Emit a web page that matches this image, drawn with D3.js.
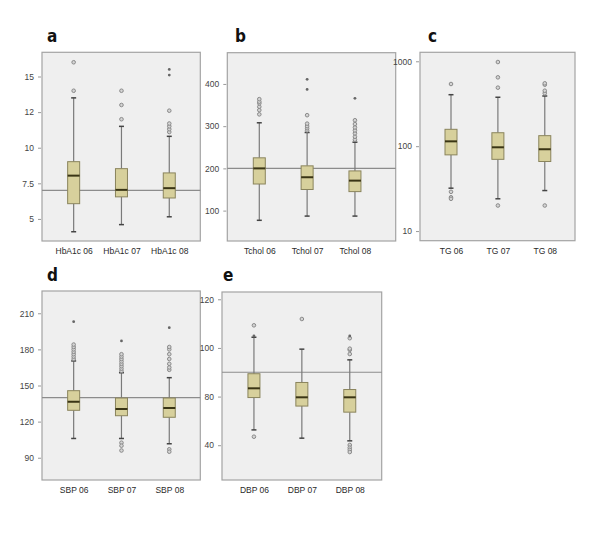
<!DOCTYPE html>
<html><head><meta charset="utf-8">
<script src="https://cdn.jsdelivr.net/npm/d3@7"></script>
<style>body{margin:0;background:#fff}svg{display:block}</style>
</head><body>
<svg id="chart" width="600" height="535"></svg>
<script>
// ---- DATA (stats = [lowWhisker, Q1, median, Q3, highWhisker]) ----
const hba1cCats = ["HbA1c 06", "HbA1c 07", "HbA1c 08"];
const hba1cStats = [[4.1, 6.07, 8.04, 9.02, 13.5], [4.6, 6.55, 7.04, 8.53, 11.5], [5.15, 6.47, 7.16, 8.23, 10.8]];
const hba1cOutliers = [[14.0, 16.0], [12.0, 13.0, 14.0], [11.1, 11.3, 11.5, 11.7, 12.6]];
const hba1cExtremes = [[], [], [15.1, 15.5]];
const hba1cTicks = [5, 7.5, 10, 12.5, 15];
const hba1cTickLabels = ["5", "7.5", "10", "12", "15"];
const hba1cRef = 7.0;

const tcholCats = ["Tchol 06", "Tchol 07", "Tchol 08"];
const tcholStats = [[77, 163, 200, 225, 308], [87, 150, 179, 206, 285], [87, 145, 171, 194, 262]];
const tcholOutliers = [[328, 338, 346, 354, 358, 364], [290, 295, 300, 306, 326], [268, 275, 283, 290, 297, 305, 314]];
const tcholExtremes = [[], [387, 411], [366]];
const tcholTicks = [100, 200, 300, 400];
const tcholTickLabels = ["100", "200", "300", "400"];
const tcholRef = 200;

const tgCats = ["TG 06", "TG 07", "TG 08"];
const tgStats = [[32, 79, 114, 158, 404], [24, 70, 97, 144, 377], [30, 66, 92, 133, 390]];
const tgOutliers = [[540, 29, 25, 24], [980, 647, 489, 20], [420, 450, 530, 550, 20]];
const tgExtremes = [[], [], []];
const tgTicks = [10, 100, 1000];
const tgTickLabels = ["10", "100", "1000"];

const sbpCats = ["SBP 06", "SBP 07", "SBP 08"];
const sbpStats = [[106, 129.4, 136.5, 145.7, 170.4], [106, 124.9, 130.5, 139.6, 160.6], [101.6, 123.6, 131.3, 139.6, 156.5]];
const sbpOutliers = [[172, 174, 176, 178, 180, 182, 184], [162, 164, 166, 168, 170, 172, 174, 176, 102.5, 100, 96], [163, 165, 168, 172, 176, 180, 182, 97, 95]];
const sbpExtremes = [[203], [187], [198]];
const sbpTicks = [90, 120, 150, 180, 210];
const sbpTickLabels = ["90", "120", "150", "180", "210"];
const sbpRef = 140;

const dbpCats = ["DBP 06", "DBP 07", "DBP 08"];
const dbpStats = [[66.3, 79.6, 83.4, 89.4, 104.4], [62.9, 76.1, 79.7, 85.8, 99.5], [61.8, 73.6, 79.7, 82.9, 95.1]];
const dbpOutliers = [[109.3, 63.5], [111.9], [97.5, 99.2, 99.7, 104, 60.1, 59, 58.1, 57.2]];
const dbpExtremes = [[104.9], [], [104.9]];
const dbpTicks = [60, 80, 100, 120];
const dbpTickLabels = ["40", "80", "100", "120"];
const dbpRef = 90;

// ---- LAYOUT ----
const panels = [
  {letter: "a", cats: hba1cCats, stats: hba1cStats, out: hba1cOutliers, ext: hba1cExtremes, ticks: hba1cTicks, tickLabels: hba1cTickLabels, ref: hba1cRef,
   x0: 42, x1: 200.3, y0: 52.3, y1: 241, dom: [3.45, 16.7], log: false, f: [0.2, 0.804], lx: 47, ly: 37},
  {letter: "b", cats: tcholCats, stats: tcholStats, out: tcholOutliers, ext: tcholExtremes, ticks: tcholTicks, tickLabels: tcholTickLabels, ref: tcholRef,
   x0: 227.3, x1: 395.7, y0: 52.7, y1: 241, dom: [28, 474], log: false, f: [0.19, 0.758], lx: 235, ly: 37},
  {letter: "c", cats: tgCats, stats: tgStats, out: tgOutliers, ext: tgExtremes, ticks: tgTicks, tickLabels: tgTickLabels, ref: null,
   x0: 420, x1: 575, y0: 52.3, y1: 240.7, dom: [7.7, 1276], log: true, f: [0.2, 0.805], lx: 428, ly: 37},
  {letter: "d", cats: sbpCats, stats: sbpStats, out: sbpOutliers, ext: sbpExtremes, ticks: sbpTicks, tickLabels: sbpTickLabels, ref: sbpRef,
   x0: 42, x1: 200.3, y0: 291, y1: 480, dom: [71.5, 228.5], log: false, f: [0.2, 0.804], lx: 47, ly: 276},
  {letter: "e", cats: dbpCats, stats: dbpStats, out: dbpOutliers, ext: dbpExtremes, ticks: dbpTicks, tickLabels: dbpTickLabels, ref: dbpRef,
   x0: 222, x1: 381.7, y0: 292, y1: 480, dom: [45.7, 123], log: false, f: [0.2, 0.8], lx: 223, ly: 276}
];

const svg = d3.select("#chart");
const boxW = 12, capW = 5;

panels.forEach(p => {
  const g = svg.append("g");
  const w = p.x1 - p.x0;
  const y = (p.log ? d3.scaleLog() : d3.scaleLinear()).domain(p.dom).range([p.y1, p.y0]);
  const x = d3.scalePoint().domain(p.cats).range([p.x0 + p.f[0] * w, p.x0 + p.f[1] * w]);

  // background + frame
  g.append("rect").attr("x", p.x0).attr("y", p.y0).attr("width", w).attr("height", p.y1 - p.y0)
    .attr("fill", "#efefef").attr("stroke", "#a3a3a3").attr("stroke-width", 1.2);

  // y axis
  const yAxis = d3.axisLeft(y).tickValues(p.ticks).tickSize(3).tickPadding(4)
    .tickFormat((d, i) => p.tickLabels[i]);
  const ya = g.append("g").attr("transform", `translate(${p.x0 - 1},0)`).call(yAxis);
  ya.select(".domain").remove();
  ya.selectAll(".tick line").attr("stroke", "#999");
  ya.selectAll("text").attr("fill", "#444").style("font-family", "Liberation Sans, Arial, sans-serif").style("font-size", "8.5px");

  // x axis labels
  const xAxis = d3.axisBottom(x).tickSize(0).tickPadding(7);
  const xa = g.append("g").attr("transform", `translate(0,${p.y1})`).call(xAxis);
  xa.select(".domain").remove();
  xa.selectAll("text").attr("fill", "#2a2a2a").style("font-family", "Liberation Sans, Arial, sans-serif").style("font-size", "8.5px");

  // reference line
  if (p.ref !== null) {
    g.append("line").attr("x1", p.x0).attr("x2", p.x1).attr("y1", y(p.ref)).attr("y2", y(p.ref))
      .attr("stroke", "#8c8c8c").attr("stroke-width", 1.2);
  }

  p.cats.forEach((c, i) => {
    const s = p.stats[i], cx = x(c);
    // whiskers
    g.append("line").attr("x1", cx).attr("x2", cx).attr("y1", y(s[0])).attr("y2", y(s[1])).attr("stroke", "#7a7a7a").attr("stroke-width", 1.2);
    g.append("line").attr("x1", cx).attr("x2", cx).attr("y1", y(s[3])).attr("y2", y(s[4])).attr("stroke", "#7a7a7a").attr("stroke-width", 1.2);
    [s[0], s[4]].forEach(v => g.append("line").attr("x1", cx - capW / 2).attr("x2", cx + capW / 2)
      .attr("y1", y(v)).attr("y2", y(v)).attr("stroke", "#444").attr("stroke-width", 1.5));
    // box
    g.append("rect").attr("x", cx - boxW / 2).attr("width", boxW).attr("y", y(s[3])).attr("height", y(s[1]) - y(s[3]))
      .attr("fill", "#d7d09c").attr("stroke", "#8a845c").attr("stroke-width", 1);
    // median
    g.append("line").attr("x1", cx - boxW / 2).attr("x2", cx + boxW / 2).attr("y1", y(s[2])).attr("y2", y(s[2]))
      .attr("stroke", "#3a3515").attr("stroke-width", 2);
    // outliers
    p.out[i].forEach(v => g.append("circle").attr("cx", cx).attr("cy", y(v)).attr("r", 1.8)
      .attr("fill", "#d4d4d4").attr("stroke", "#8a8a8a").attr("stroke-width", 1));
    p.ext[i].forEach(v => g.append("circle").attr("cx", cx).attr("cy", y(v)).attr("r", 1.4)
      .attr("fill", "#666").attr("stroke", "none"));
  });

  // panel letter
  g.append("text").attr("x", p.lx).attr("y", p.ly).attr("dominant-baseline", "middle")
    .style("font-family", "'DejaVu Sans Condensed', 'Liberation Sans Narrow', sans-serif").style("font-weight", "bold")
    .style("font-size", "17px").attr("fill", "#111").text(p.letter);
});
</script>
</body></html>
